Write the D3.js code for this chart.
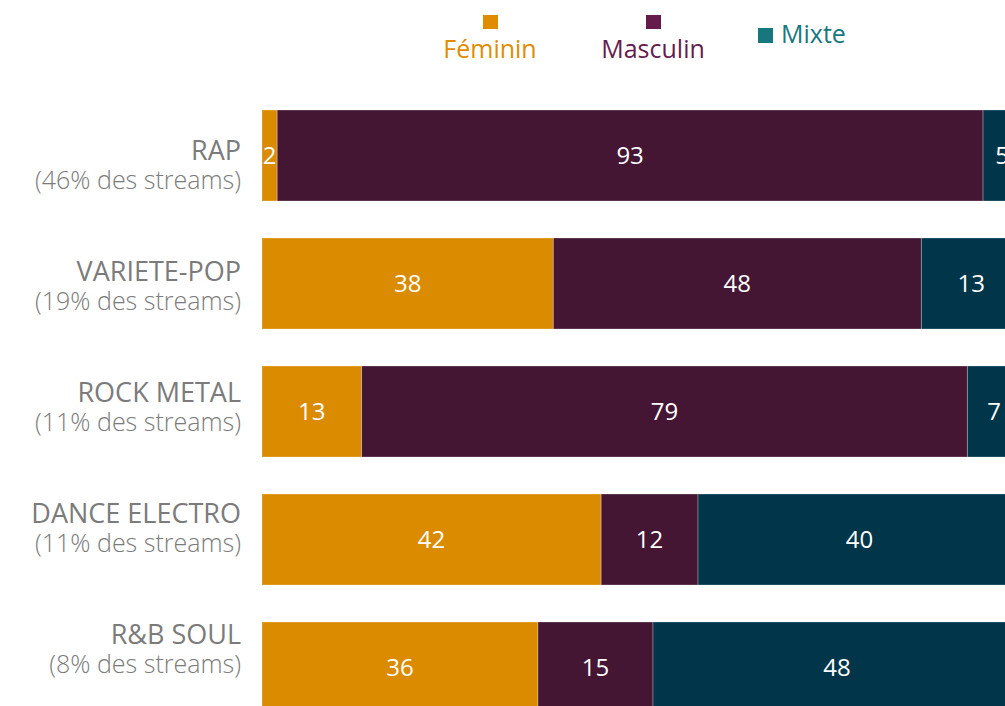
<!DOCTYPE html>
<html>

<head>
    <meta charset="utf-8">
    <script src="https://d3js.org/d3.v7.min.js"></script>
    <style>
        body { margin: 0; background: white; }
        svg { display: block; font-family: "Open Sans", sans-serif; }
    </style>
</head>

<body>
    <svg id="chart" width="1005" height="706"></svg>
    <script>
        // data
        const genres = ["RAP", "VARIETE-POP", "ROCK METAL", "DANCE ELECTRO", "R&B SOUL"];
        const streamShare = ["46%", "19%", "11%", "11%", "8%"];
        const feminin = [2, 38, 13, 42, 36];
        const masculin = [93, 48, 79, 12, 15];
        const mixte = [5, 13, 7, 40, 48];

        const series = ["Féminin", "Masculin", "Mixte"];
        const barColors = ["#db8b00", "#441634", "#00354a"];
        const legendColors = ["#e08c00", "#651c4d", "#17777f"];

        const svg = d3.select("#chart");

        // rows, each one normalised to 100
        const rows = genres.map((g, i) => {
            const vals = [feminin[i], masculin[i], mixte[i]];
            const total = d3.sum(vals);
            let acc = 0;
            const segs = vals.map((v, j) => {
                const s = { key: series[j], value: v, x0: acc / total * 100, x1: (acc + v) / total * 100 };
                acc += v;
                return s;
            });
            return { genre: g, share: streamShare[i], segs: segs };
        });

        const x = d3.scaleLinear().domain([0, 100]).range([262, 1021]);
        const y = d3.scaleBand().domain(genres).range([110, 713]).paddingInner(37 / 128);
        const labelY = d3.scalePoint().domain(genres).range([160, 644]);
        const color = d3.scaleOrdinal().domain(series).range(barColors);

        const rowG = svg.selectAll("g.row")
            .data(rows)
            .join("g")
            .attr("class", "row")
            .attr("transform", d => `translate(0,${y(d.genre)})`);

        rowG.selectAll("rect")
            .data(d => d.segs)
            .join("rect")
            .attr("x", d => x(d.x0))
            .attr("width", d => x(d.x1) - x(d.x0))
            .attr("y", 0)
            .attr("height", y.bandwidth())
            .attr("fill", d => color(d.key))
            .attr("stroke", "rgba(255,255,255,0.35)")
            .attr("stroke-width", 0.8);

        rowG.selectAll("text.val")
            .data(d => d.segs)
            .join("text")
            .attr("class", "val")
            .attr("x", d => (x(d.x0) + x(d.x1)) / 2)
            .attr("y", y.bandwidth() / 2)
            .attr("dy", "0.36em")
            .attr("text-anchor", "middle")
            .attr("fill", "white")
            .attr("font-size", 24)
            .attr("font-weight", 400)
            .text(d => d.value);

        // category labels on the left
        rows.forEach(d => {
            svg.append("text")
                .attr("x", 241)
                .attr("y", labelY(d.genre))
                .attr("text-anchor", "end")
                .attr("fill", "#7b7b7b")
                .attr("font-size", 27)
                .attr("font-weight", 400)
                .text(d.genre);
            svg.append("text")
                .attr("x", 241)
                .attr("y", labelY(d.genre) + 29)
                .attr("text-anchor", "end")
                .attr("fill", "#7b7b7b")
                .attr("font-size", 25)
                .attr("font-weight", 300)
                .text(`(${d.share} des streams)`);
        });

        // legend
        const legendX = [490, 653];
        [0, 1].forEach(i => {
            svg.append("rect")
                .attr("x", legendX[i] - 7)
                .attr("y", 15)
                .attr("width", 15)
                .attr("height", 14)
                .attr("fill", legendColors[i]);
            svg.append("text")
                .attr("x", legendX[i])
                .attr("y", 58)
                .attr("text-anchor", "middle")
                .attr("fill", legendColors[i])
                .attr("font-size", 25)
                .attr("font-weight", 500)
                .text(series[i]);
        });
        svg.append("rect")
            .attr("x", 758)
            .attr("y", 28)
            .attr("width", 15)
            .attr("height", 15)
            .attr("fill", legendColors[2]);
        svg.append("text")
            .attr("x", 781)
            .attr("y", 43)
            .attr("fill", legendColors[2])
            .attr("font-size", 25)
            .attr("font-weight", 500)
            .text(series[2]);
    </script>
</body>

</html>
